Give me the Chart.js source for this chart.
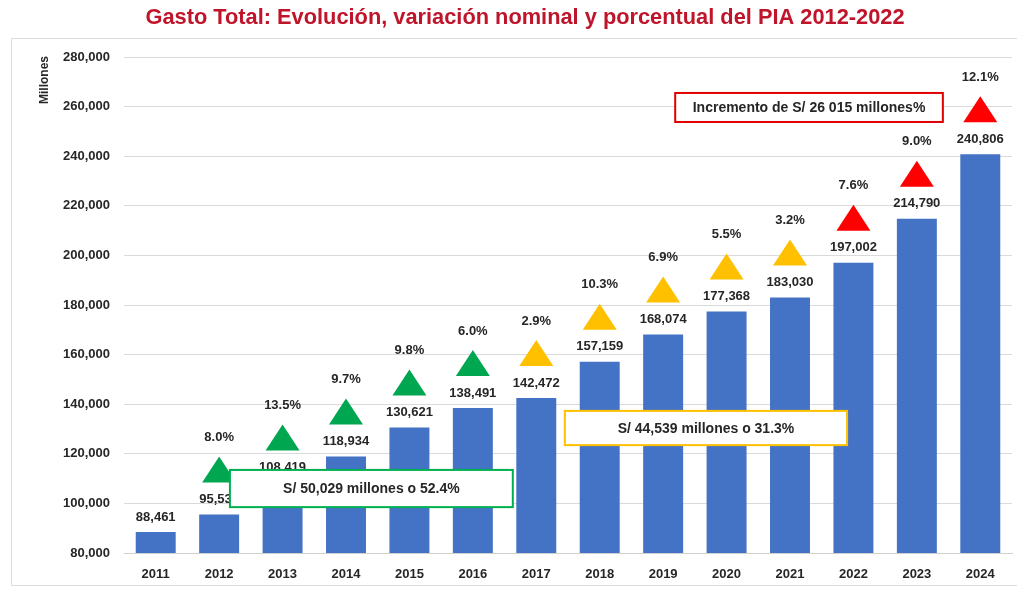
<!DOCTYPE html>
<html lang="es">
<head>
<meta charset="UTF-8">
<title>Gasto Total: Evolución del PIA</title>
<script src="https://cdn.jsdelivr.net/npm/chart.js"></script>
<style>
  body { margin: 0; background: #fff; }
  .marco { position: absolute; left: 11px; top: 38px; width: 1010px; height: 546px; border: 1px solid #dcdcdc; }
  .lienzo { position: absolute; left: 0; top: 0; }
</style>
</head>
<body>
<div class="marco"></div>
<div class="lienzo"><canvas id="grafico" width="1017" height="589"></canvas></div>

<script>
  // Datos (millones de soles)
  const anios = ['2011', '2012', '2013', '2014', '2015', '2016', '2017', '2018', '2019', '2020', '2021', '2022', '2023', '2024'];
  const gasto = [88461, 95534, 108419, 118934, 130621, 138491, 142472, 157159, 168074, 177368, 183030, 197002, 214790, 240806];
  const variacion = [null, 8.0, 13.5, 9.7, 9.8, 6.0, 2.9, 10.3, 6.9, 5.5, 3.2, 7.6, 9.0, 12.1];
  const ejeY = [80000, 280000, 20000]; // mínimo, máximo, paso

  const titulo = 'Gasto Total: Evolución, variación nominal y porcentual del PIA 2012-2022';

  // Recuadros de texto (posición en índice de categoría y valor del eje)
  const notas = [
    { texto: 'S/ 50,029 millones o 52.4%', color: '#00B050', x0: 1.17, x1: 5.63, y0: 113500, y1: 98500 },
    { texto: 'S/ 44,539 millones o 31.3%', color: '#FFC000', x0: 6.45, x1: 10.9, y0: 137300, y1: 123500 },
    { texto: 'Incremento de S/ 26 015 millones%', color: '#E00000', x0: 8.19, x1: 12.41, y0: 265500, y1: 253800 }
  ];

  const FUENTE = '"Liberation Sans", Arial, sans-serif';
  const TEXTO = '#262626';

  function colorTriangulo(anio) {
    const a = parseInt(anio);
    if (a <= 2016) return '#00A650';
    if (a <= 2021) return '#FFC000';
    return '#FF0000';
  }

  const etiquetas = {
    id: 'etiquetas',
    afterDatasetsDraw(chart) {
      const ctx = chart.ctx;
      const meta = chart.getDatasetMeta(0);
      const sx = chart.scales.x, sy = chart.scales.y;
      ctx.save();
      ctx.textAlign = 'center';
      ctx.textBaseline = 'middle';
      ctx.font = 'bold 13px ' + FUENTE;

      meta.data.forEach((bar, i) => {
        ctx.fillStyle = TEXTO;
        ctx.fillText(gasto[i].toLocaleString('en-US'), bar.x, bar.y - 15);
        if (variacion[i] == null) return;
        // triángulo
        ctx.fillStyle = colorTriangulo(anios[i]);
        ctx.beginPath();
        ctx.moveTo(bar.x, bar.y - 58);
        ctx.lineTo(bar.x + 17, bar.y - 32);
        ctx.lineTo(bar.x - 17, bar.y - 32);
        ctx.closePath();
        ctx.fill();
        ctx.fillStyle = TEXTO;
        ctx.fillText(variacion[i].toFixed(1) + '%', bar.x, bar.y - 77);
      });

      // recuadros
      notas.forEach(n => {
        const l = sx.getPixelForValue(n.x0), r = sx.getPixelForValue(n.x1);
        const t = sy.getPixelForValue(n.y0), b = sy.getPixelForValue(n.y1);
        ctx.fillStyle = '#fff';
        ctx.fillRect(l, t, r - l, b - t);
        ctx.strokeStyle = n.color;
        ctx.lineWidth = 2;
        ctx.strokeRect(l, t, r - l, b - t);
        ctx.fillStyle = TEXTO;
        ctx.font = 'bold 14px ' + FUENTE;
        ctx.fillText(n.texto, (l + r) / 2, (t + b) / 2 + 1);
      });
      ctx.restore();
    },
    afterDraw(chart) {
      const ctx = chart.ctx;
      ctx.save();
      // título
      ctx.fillStyle = '#C0142B';
      ctx.font = 'bold 21.8px ' + FUENTE;
      ctx.textAlign = 'center';
      ctx.textBaseline = 'middle';
      ctx.fillText(titulo, 525, 18);
      // título del eje Y
      ctx.translate(45, 80);
      ctx.rotate(-Math.PI / 2);
      ctx.fillStyle = TEXTO;
      ctx.font = 'bold 12px ' + FUENTE;
      ctx.fillText('Millones', 0, 0);
      ctx.restore();
    }
  };

  const ctx = document.getElementById('grafico').getContext('2d');
  new Chart(ctx, {
    type: 'bar',
    data: {
      labels: anios,
      datasets: [{
        label: 'Gasto total',
        data: gasto,
        backgroundColor: '#4472C4',
        categoryPercentage: 1,
        barPercentage: 0.63
      }]
    },
    options: {
      responsive: false,
      animation: false,
      layout: { padding: { top: 57, right: 5, left: 0, bottom: 0 } },
      plugins: { legend: { display: false }, tooltip: { enabled: false } },
      scales: {
        x: {
          afterFit: s => { s.height = 36; },
          grid: { display: false },
          border: { color: '#d0d0d0' },
          ticks: { color: TEXTO, padding: 6, font: { family: FUENTE, size: 13, weight: 'bold' } }
        },
        y: {
          min: ejeY[0],
          max: ejeY[1],
          afterFit: s => { s.width = 124; },
          border: { display: false },
          grid: { color: '#dadada', drawTicks: false },
          ticks: {
            stepSize: ejeY[2],
            padding: 14,
            color: TEXTO,
            font: { family: FUENTE, size: 13, weight: 'bold' },
            callback: v => v.toLocaleString('en-US')
          }
        }
      }
    },
    plugins: [etiquetas]
  });
</script>
</body>
</html>
